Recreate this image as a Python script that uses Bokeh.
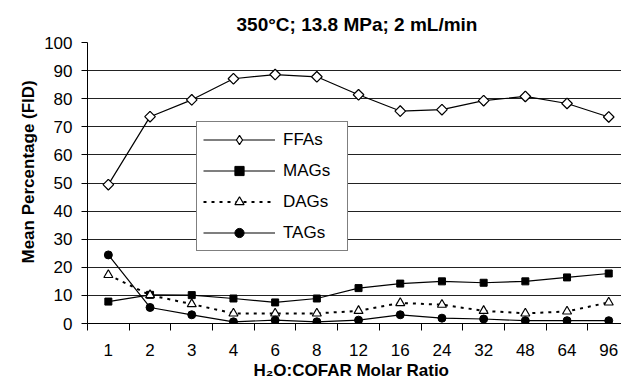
from bokeh.plotting import figure
from bokeh.models import FixedTicker, Legend, LegendItem, ColumnDataSource, Range1d, Title
from bokeh.embed import file_html
from bokeh.resources import INLINE

categories = ["1", "2", "3", "4", "6", "8", "12", "16", "24", "32", "48", "64", "96"]
ffas = [49.4, 73.6, 79.6, 87.1, 88.6, 87.8, 81.4, 75.6, 76.1, 79.3, 80.8, 78.3, 73.5]
mags = [7.8, 10.2, 10.1, 8.9, 7.5, 8.9, 12.6, 14.2, 15.0, 14.5, 15.0, 16.4, 17.8]
dags = [17.3, 10.1, 6.9, 3.6, 3.6, 3.6, 4.5, 7.3, 6.7, 4.5, 3.6, 4.3, 7.5]
tags = [24.4, 5.7, 3.1, 0.6, 1.2, 0.6, 1.2, 3.1, 1.9, 1.6, 1.0, 1.0, 1.0]
y_ticks = [0, 10, 20, 30, 40, 50, 60, 70, 80, 90, 100]

idx = list(range(len(categories)))
src = ColumnDataSource(dict(x=idx, ffas=ffas, mags=mags, dags=dags, tags=tags))

FONT = "Liberation Sans"

p = figure(width=621, height=384, output_backend="svg", toolbar_location=None,
           x_range=Range1d(-0.5, 12.306), y_range=Range1d(0, 100),
           min_border_left=87, min_border_right=0, min_border_top=42, min_border_bottom=61)
p.outline_line_color = None
p.background_fill_color = "white"
p.border_fill_color = "white"

p.add_layout(Title(text="350°C; 13.8 MPa; 2 mL/min", align="left", offset=149,
                   standoff=16, text_font=FONT, text_font_size="19px",
                   text_font_style="bold", text_color="black"), "above")

# x axis
xa = p.xaxis[0]
xa.ticker = FixedTicker(ticks=idx, minor_ticks=[i - 0.5 for i in range(len(categories) + 1)])
xa.major_label_overrides = {i: c for i, c in enumerate(categories)}
xa.major_tick_out = 0
xa.major_tick_in = 0
xa.minor_tick_out = 7
xa.minor_tick_in = 0
xa.minor_tick_line_color = "black"
xa.axis_line_color = "black"
xa.major_label_text_font = FONT
xa.major_label_text_font_size = "17px"
xa.major_label_text_color = "black"
xa.major_label_standoff = 13

# y axis
ya = p.yaxis[0]
ya.ticker = FixedTicker(ticks=y_ticks, minor_ticks=[])
ya.major_tick_out = 6
ya.major_tick_in = 0
ya.axis_line_color = "black"
ya.major_tick_line_color = "black"
ya.major_label_text_font = FONT
ya.major_label_text_font_size = "17px"
ya.major_label_text_color = "black"
ya.major_label_standoff = 9

p.add_layout(Title(text="H₂O:COFAR Molar Ratio", align="left", offset=166, standoff=5,
                   vertical_align="top",
                   text_font=FONT, text_font_size="17px", text_font_style="bold",
                   text_color="black"), "below")
p.add_layout(Title(text="Mean Percentage (FID)", align="left", offset=60, standoff=7,
                   text_font=FONT, text_font_size="17px", text_font_style="bold",
                   text_color="black"), "left")

p.xgrid.grid_line_color = None
p.ygrid.grid_line_color = "#222222"
p.ygrid.grid_line_width = 1
p.ygrid.ticker = FixedTicker(ticks=y_ticks[1:])

l1 = p.line("x", "ffas", source=src, line_color="black", line_width=1.2)
s1_leg = p.scatter("x", "ffas", source=src, marker="diamond", size=10,
                   fill_color="white", line_color="black", line_width=1.2)
s1 = p.scatter("x", "ffas", source=src, marker="square", angle=0.785398, size=7.5,
               fill_color="white", line_color="black", line_width=1.2)
l2 = p.line("x", "mags", source=src, line_color="black", line_width=1.2)
s2 = p.scatter("x", "mags", source=src, marker="square", size=7,
               fill_color="black", line_color="black")
l3 = p.line("x", "dags", source=src, line_color="black", line_width=2, line_dash="3 5")
s3 = p.scatter("x", "dags", source=src, marker="triangle", size=9,
               fill_color="white", line_color="black", line_width=1.2)
l4 = p.line("x", "tags", source=src, line_color="black", line_width=1.2)
s4 = p.scatter("x", "tags", source=src, marker="circle", size=8,
               fill_color="black", line_color="black")

legend = Legend(items=[
    LegendItem(label="FFAs", renderers=[l1, s1_leg]),
    LegendItem(label="MAGs", renderers=[l2, s2]),
    LegendItem(label="DAGs", renderers=[l3, s3]),
    LegendItem(label="TAGs", renderers=[l4, s4]),
], location=(109, 72), padding=6, spacing=8, margin=0,
    label_height=23, glyph_height=23, glyph_width=72, label_standoff=8, label_width=58,
    border_line_color="black", border_line_width=1,
    background_fill_color="white", background_fill_alpha=1.0,
    label_text_font=FONT, label_text_font_size="17px", label_text_color="black")
p.add_layout(legend)

open("out.html", "w").write(file_html(p, INLINE))
